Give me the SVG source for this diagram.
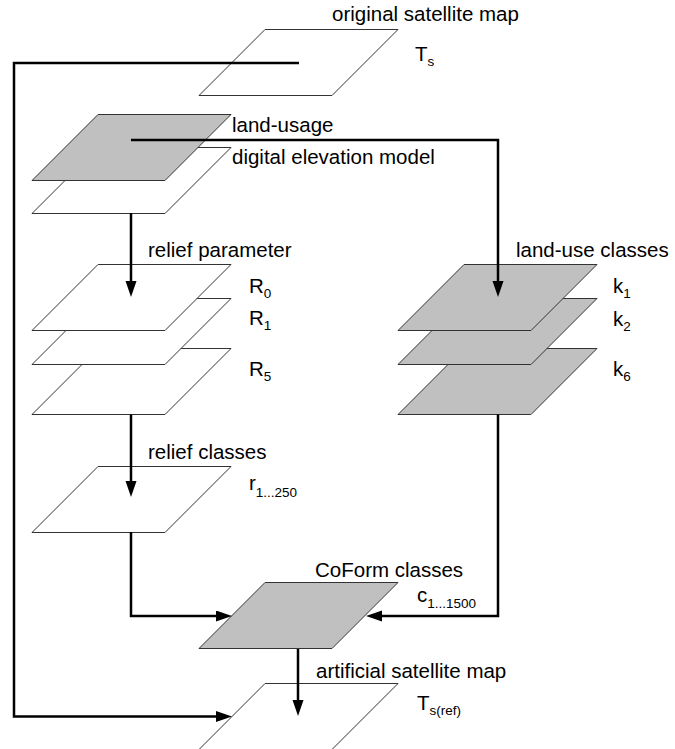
<svg xmlns="http://www.w3.org/2000/svg" xmlns:xlink="http://www.w3.org/1999/xlink" width="675" height="749" viewBox="0 0 675 749">
  <style>
    .lbl { font-family: "Liberation Sans", Arial, sans-serif; font-size: 20.5px; fill: #000; }
    .sub { font-size: 13.5px; }
    .white { fill: #fff; }
    .grey { fill: #c0c0c0; }
    .conn { fill: none; stroke: #000; stroke-width: 2.5; }
  </style>
  <defs>
    <!-- one map layer drawn as a slanted sheet; anchor = bottom-left x, top y -->
    <polygon id="sheet" points="66,0 199,0 133,66 0,66" stroke="#333" stroke-width="1"/>
    <marker id="arrow" markerUnits="userSpaceOnUse" markerWidth="16" markerHeight="12" refX="0" refY="5.5" orient="auto">
      <path d="M0,0 L16,5.5 L0,11 Z" fill="#000"/>
    </marker>
  </defs>
  <rect width="675" height="749" fill="#fff"/>

  <g id="original-satellite-map">
    <use xlink:href="#sheet" class="white" x="199" y="29.5"/>
    <text class="lbl" x="332" y="21">original satellite map</text>
    <text class="lbl" x="415" y="61">T<tspan class="sub" dy="5">s</tspan></text>
  </g>

  <g id="digital-elevation-model">
    <use xlink:href="#sheet" class="white" x="32" y="147.5"/>
    <text class="lbl" x="232" y="164">digital elevation model</text>
  </g>

  <g id="land-usage">
    <use xlink:href="#sheet" class="grey" x="32" y="114.5"/>
    <text class="lbl" x="232" y="132">land-usage</text>
  </g>

  <g id="relief-parameter">
    <use xlink:href="#sheet" class="white" x="32" y="348.5"/>
    <use xlink:href="#sheet" class="white" x="32" y="298.5"/>
    <use xlink:href="#sheet" class="white" x="32" y="264.5"/>
    <text class="lbl" x="148" y="257">relief parameter</text>
    <text class="lbl" x="249" y="293">R<tspan class="sub" dy="5">0</tspan></text>
    <text class="lbl" x="249" y="325">R<tspan class="sub" dy="5">1</tspan></text>
    <text class="lbl" x="249" y="376">R<tspan class="sub" dy="5">5</tspan></text>
  </g>

  <g id="land-use-classes">
    <use xlink:href="#sheet" class="grey" x="398" y="348.5"/>
    <use xlink:href="#sheet" class="grey" x="398" y="298.5"/>
    <use xlink:href="#sheet" class="grey" x="398" y="264.5"/>
    <text class="lbl" x="516" y="257">land-use classes</text>
    <text class="lbl" x="613" y="293">k<tspan class="sub" dy="5">1</tspan></text>
    <text class="lbl" x="613" y="326">k<tspan class="sub" dy="5">2</tspan></text>
    <text class="lbl" x="613" y="376">k<tspan class="sub" dy="5">6</tspan></text>
  </g>

  <g id="relief-classes">
    <use xlink:href="#sheet" class="white" x="32" y="466.5"/>
    <text class="lbl" x="148" y="459">relief classes</text>
    <text class="lbl" x="249" y="490">r<tspan class="sub" dy="7">1...250</tspan></text>
  </g>

  <g id="coform-classes">
    <use xlink:href="#sheet" class="grey" x="199" y="582.5"/>
    <text class="lbl" x="315" y="577">CoForm classes</text>
    <text class="lbl" x="417" y="602">c<tspan class="sub" dy="6">1...1500</tspan></text>
  </g>

  <g id="artificial-satellite-map">
    <use xlink:href="#sheet" class="white" x="199" y="683.5"/>
    <text class="lbl" x="316" y="678">artificial satellite map</text>
    <text class="lbl" x="417" y="710">T<tspan class="sub" dy="5">s(ref)</tspan></text>
  </g>

  <g id="connectors">
    <path class="conn" d="M299,63 H14 V716.5 H216" marker-end="url(#arrow)"/>
    <path class="conn" d="M131,140 H498 V281" marker-end="url(#arrow)"/>
    <path class="conn" d="M131,213 V281" marker-end="url(#arrow)"/>
    <path class="conn" d="M131,414.5 V481" marker-end="url(#arrow)"/>
    <path class="conn" d="M131,532 V616 H216" marker-end="url(#arrow)"/>
    <path class="conn" d="M498,414.5 V616 H382" marker-end="url(#arrow)"/>
    <path class="conn" d="M298,649 V700" marker-end="url(#arrow)"/>
  </g>
</svg>
